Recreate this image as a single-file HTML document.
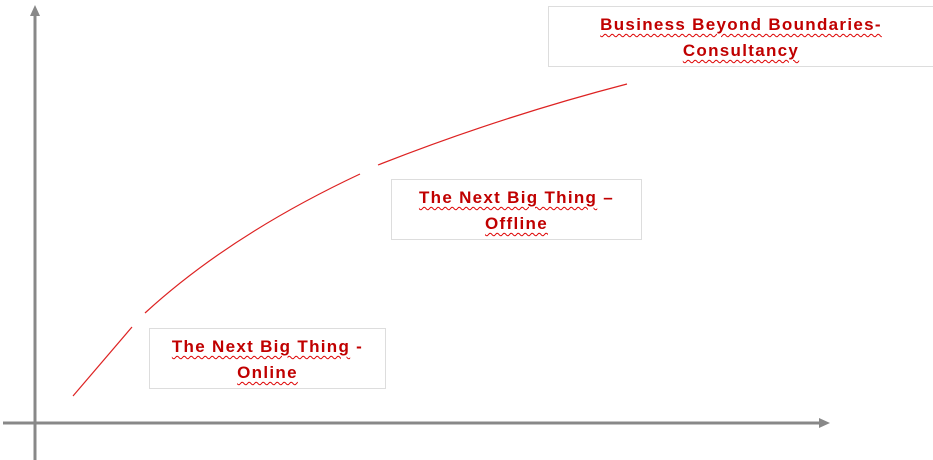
<!DOCTYPE html>
<html><head><meta charset="utf-8"><style>
body{margin:0;width:933px;height:460px;background:#fff;overflow:hidden;position:relative;font-family:"Liberation Sans",sans-serif}
.b{position:absolute;border:1px solid #ddd;background:#fff;box-sizing:border-box;text-align:center;color:#c00000;font-weight:bold;font-size:17px;letter-spacing:1.3px;line-height:26px;padding-top:5px}
.b span{text-decoration:underline wavy #d00;text-decoration-thickness:1px;text-underline-offset:3px}
</style></head><body>
<svg width="933" height="460" style="position:absolute;left:0;top:0">
<line x1="35" y1="14" x2="35" y2="460" stroke="#888" stroke-width="3"/>
<polygon points="35,5 30,16 40,16" fill="#888"/>
<line x1="3" y1="423" x2="820" y2="423" stroke="#888" stroke-width="3"/>
<polygon points="830,423 819,418 819,428" fill="#888"/>
<g stroke="#d22" stroke-width="1.2" fill="none">
<line x1="73" y1="396" x2="132" y2="327"/>
<path d="M145 313 Q230 235 360 174"/>
<path d="M378 165 Q500 117 627 84"/>
</g>
</svg>
<div class="b" style="left:548px;top:6px;width:386px;height:61px"><span>Business Beyond Boundaries-</span><br><span>Consultancy</span></div>
<div class="b" style="left:391px;top:179px;width:251px;height:61px"><span>The Next Big Thing</span> –<br><span>Offline</span></div>
<div class="b" style="left:149px;top:328px;width:237px;height:61px"><span>The Next Big Thing</span> -<br><span>Online</span></div>
</body></html>
